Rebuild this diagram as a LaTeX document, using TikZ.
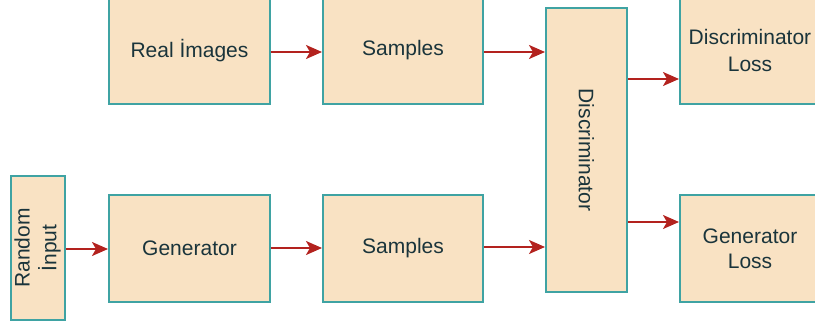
\documentclass[tikz,border=0pt]{standalone}
\usepackage{fontspec}
\setmainfont{Liberation Sans}
\usetikzlibrary{arrows.meta}
\definecolor{boxfill}{HTML}{F9E2C3}
\definecolor{boxline}{HTML}{3FA3A3}
\definecolor{boxtext}{HTML}{1A343B}
\definecolor{arrowred}{HTML}{B3221E}
\tikzset{
  block/.style={draw=boxline, line width=2pt, fill=boxfill, text=boxtext,
    font=\fontsize{21}{25}\selectfont, align=center, inner sep=0pt},
  arr/.style={draw=arrowred, line width=2pt,
    -{Stealth[length=16pt, width=14pt, inset=4pt]}}
}
\begin{document}
\begin{tikzpicture}[x=1pt, y=-1pt]
  \useasboundingbox (0,0) rectangle (815,324);
  \clip (0,0) rectangle (815,324);
  % sources
  \node[block, minimum width=54pt, minimum height=144pt] (rnd) at (38,248)
    {\rotatebox{90}{\begin{tabular}{@{}c@{}}Random\\[1pt]İnput\end{tabular}}};
  \node[block, minimum width=161pt, minimum height=107pt] (real) at (189.5,50.5) {Real İmages};
  \node[block, minimum width=161pt, minimum height=107pt] (gen) at (189.5,248.5) {Generator};
  % samples
  \node[block, minimum width=160pt, minimum height=107pt] (st) at (403,50.5) {Samples};
  \node[block, minimum width=160pt, minimum height=107pt] (sb) at (403,248.5) {Samples};
  % discriminator
  \node[block, minimum width=81pt, minimum height=284pt] (disc) at (586.5,150)
    {\rotatebox{-90}{Discriminator}};
  % losses
  \node[block, minimum width=140pt, minimum height=107pt] (dl) at (750,50.5)
    {Discriminator\\[2pt]Loss};
  \node[block, minimum width=140pt, minimum height=107pt] (gl) at (750,248.5)
    {Generator\\[0pt]Loss};
  % connectors
  \draw[arr] (rnd.east |- 0,249) -- (gen.west |- 0,249);
  \draw[arr] (real.east |- 0,52) -- (st.west |- 0,52);
  \draw[arr] (gen.east |- 0,248) -- (sb.west |- 0,248);
  \draw[arr] (st.east |- 0,52) -- (disc.west |- 0,52);
  \draw[arr] (sb.east |- 0,247) -- (disc.west |- 0,247);
  \draw[arr] (disc.east |- 0,79) -- (dl.west |- 0,79);
  \draw[arr] (disc.east |- 0,222) -- (gl.west |- 0,222);
\end{tikzpicture}
\end{document}
